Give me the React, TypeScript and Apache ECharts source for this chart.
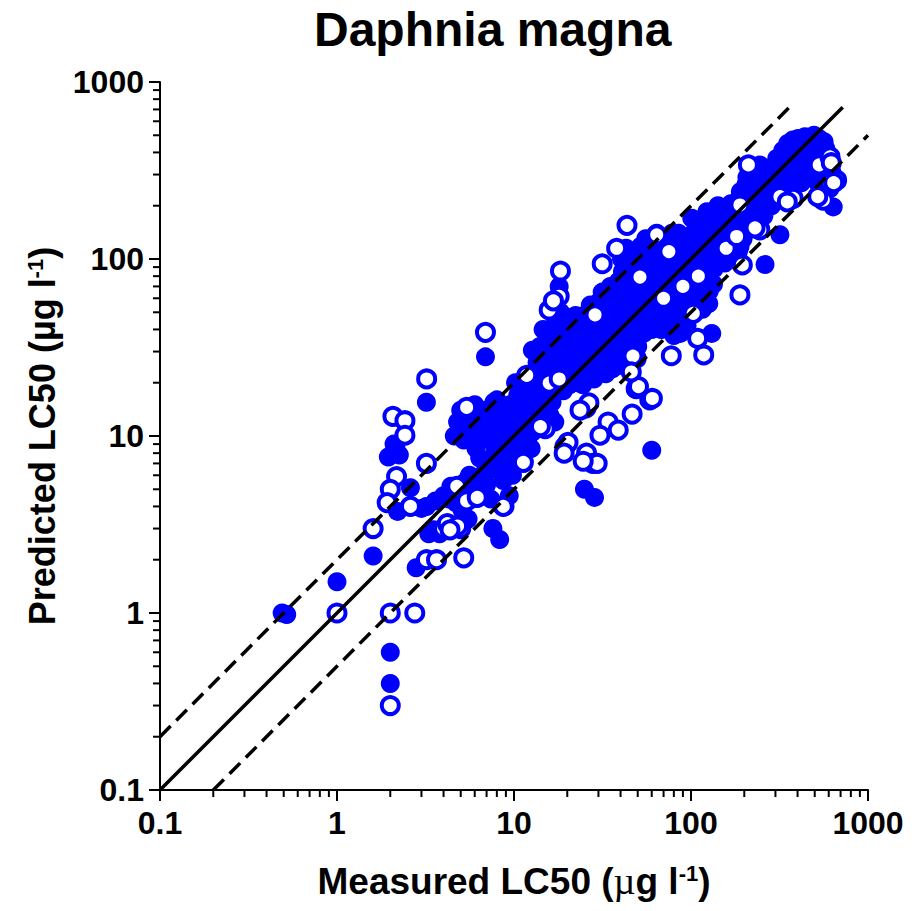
import React, { useEffect, useRef } from 'react';
import * as echarts from 'echarts';

// ---------- data (Measured LC50, Predicted LC50) ----------
const filledLowX: number[][] = [
  [0.49, 1.0], [0.52, 0.98], [1.0, 1.5], [1.6, 2.1], [2.0, 0.6], [2.0, 0.4],
  [1.95, 7.6], [2.07, 8.0], [2.15, 8.7], [2.25, 7.8], [2.1, 9.0], [2.6, 5.1],
  [2.2, 3.75], [2.8, 1.8], [3.2, 15.5], [6.9, 28], [3.3, 2.8], [3.8, 2.8],
  [3.2, 4.0], [3.6, 4.3], [3.5, 2.95], [3.0, 3.9], [4.0, 4.6],
];

const filledBand1: number[][] = [
  [4.6, 10], [4.8, 12], [5.0, 14], [5.2, 9.5], [5.4, 11], [5.5, 13.5], [5.7, 10.5], [5.9, 12.5],
  [4.7, 4.2], [5.0, 4.6], [5.3, 5.5], [5.6, 6.0], [5.8, 4.4], [5.1, 3.8], [5.5, 3.4], [4.3, 4.4],
  [4.4, 5.2], [5.9, 5.2],
  [6.0, 15], [6.2, 13], [6.3, 11], [6.5, 10], [6.7, 12.5], [6.9, 14], [7.1, 11.5], [7.3, 9.5],
  [7.5, 13], [7.7, 15.5], [7.9, 10.5], [6.1, 8.5], [6.4, 7.5], [6.8, 6.2], [7.0, 5.3], [7.2, 7.2],
  [7.6, 6.5], [7.8, 8.2], [6.6, 4.8], [6.2, 5.8], [7.6, 3.0], [7.4, 4.4],
  [8.0, 16], [8.2, 13.5], [8.4, 12], [8.6, 10.5], [8.8, 14], [9.0, 11.5], [9.3, 9.5], [9.5, 15],
  [9.7, 12.5], [9.9, 10], [8.1, 8.8], [8.5, 7.5], [8.9, 8.2], [9.2, 7], [9.6, 8.8], [8.3, 2.6],
  [8.9, 4.0], [9.4, 4.6], [8.7, 5.6], [9.8, 6],
];

const filledBand2: number[][] = [
  [10.2, 20], [10.5, 17], [10.7, 14], [11.0, 12.5], [11.3, 15.5], [11.6, 11], [11.9, 18], [12.2, 22],
  [12.5, 13.5], [12.8, 16], [10.3, 11], [10.8, 9.5], [11.5, 8.5], [12.0, 9.8], [12.7, 10.5], [10.1, 13],
  [11.1, 19], [10.5, 7.8], [12.5, 8.5],
  [13.2, 30], [13.5, 26], [13.8, 20], [14.0, 32], [14.3, 23], [14.6, 40], [14.9, 17.5], [15.2, 28],
  [15.5, 21], [15.8, 35], [16.1, 25], [16.4, 15.5], [16.7, 40], [16.9, 30], [13.4, 15], [14.5, 13.5],
  [15.6, 18.5], [16.5, 19], [13.0, 18], [12.7, 30.5], [16, 13], [17, 12],
  [17.2, 45], [17.5, 36], [17.8, 28], [18.0, 70], [18.2, 32], [18.5, 24], [18.8, 40], [19.1, 20.5],
  [19.4, 34], [19.7, 47], [20.0, 26], [20.4, 38], [20.8, 30], [21.2, 43], [21.6, 22], [17.4, 21],
  [19.0, 18], [20.6, 19.5], [21.8, 35], [18.3, 50],
  [22.3, 48], [22.8, 40], [23.2, 33], [23.7, 27], [24.2, 44], [24.7, 36], [25.2, 23], [25.7, 30],
  [26.2, 50], [26.8, 39], [27.4, 28], [28.0, 45], [28.6, 34], [29.2, 24], [29.7, 41], [23.0, 20],
  [24.5, 19.5], [26.5, 21.5], [28.3, 21], [27.0, 55], [25.0, 5.0], [28.5, 4.5], [22.0, 36],
];

const filledBand3: number[][] = [
  [30.5, 58], [31, 48], [31.6, 38], [32.2, 30], [32.8, 52], [33.5, 42], [34.2, 34], [34.9, 27],
  [35.6, 62], [36.3, 46], [37, 38], [37.8, 30], [38.5, 55], [39.2, 43], [39.8, 35], [30.8, 24],
  [33, 22.5], [36, 24], [38, 26], [31.5, 65], [35, 70], [39, 75],
  [40.5, 100], [41, 85], [41.5, 65], [42, 52], [42.5, 42], [43, 115], [43.5, 75], [44, 58],
  [44.5, 46], [45, 36], [45.5, 92], [46, 68], [46.5, 54], [47, 40], [47.5, 105], [48, 80],
  [48.5, 62], [49, 48], [49.5, 34], [50, 95], [50.5, 72], [51, 57], [51.5, 44], [52, 118],
  [52.5, 86], [53, 66], [53.5, 50], [54, 38], [54.5, 100], [42, 32], [46, 30], [50, 32], [41, 25],
  [60, 8.3],
  [55.5, 130], [56, 110], [56.5, 88], [57, 70], [57.5, 55], [58, 45], [59, 120], [60, 95],
  [61, 78], [62, 62], [63, 50], [64, 140], [65, 105], [66, 85], [67, 68], [68, 55],
  [69, 44], [70, 125], [71, 98], [72, 80], [73, 64], [74, 52], [58, 105], [62, 100],
  [66, 118], [70, 110], [74, 90], [60, 40], [68, 40],
  [76, 130], [77, 108], [78, 90], [79, 74], [80, 60], [80, 37], [82, 118], [83, 96],
  [84, 80], [85, 66], [86, 52], [87, 38], [88, 125], [89, 100], [90, 86], [91, 72],
  [92, 58], [93, 46], [95, 115], [96, 94], [97, 78], [98, 64], [99, 54], [78, 140],
  [85, 140], [92, 130], [99, 120], [82, 45], [95, 42],
];

const filledBand4: number[][] = [
  [101, 170], [103, 140], [105, 118], [107, 98], [109, 82], [111, 70], [113, 58], [115, 160],
  [117, 128], [119, 108], [121, 92], [123, 185], [125, 78], [127, 66], [129, 150], [131, 120],
  [131, 38], [133, 100], [135, 88], [137, 175], [139, 140], [112, 166], [104, 62], [116, 52],
  [126, 56], [134, 72], [108, 150], [124, 110],
  [142, 200], [146, 165], [150, 140], [154, 120], [158, 105], [162, 190], [166, 160], [170, 138],
  [175, 118], [180, 210], [184, 175], [189, 117], [193, 150], [197, 130], [147, 100], [155, 95],
  [163, 115], [172, 100], [185, 110], [195, 190], [152, 180], [168, 205], [178, 145], [190, 240],
  [203, 230], [207, 290], [211, 200], [215, 260], [220, 175], [225, 250], [230, 215], [236, 300],
  [242, 270], [248, 235], [254, 200], [260, 320], [262, 93], [267, 280], [274, 245], [281, 215],
  [288, 330], [295, 285], [300, 250], [210, 155], [232, 185], [258, 175], [285, 200], [205, 265],
  [216, 310], [228, 330], [245, 340],
  [305, 370], [312, 320], [318, 137], [322, 290], [330, 410], [338, 350], [345, 300], [352, 450],
  [360, 390], [368, 340], [376, 470], [385, 420], [394, 370], [403, 480], [412, 440], [421, 395],
  [430, 350], [440, 490], [449, 455], [310, 260], [340, 250], [370, 280], [400, 320], [430, 300],
  [360, 230], [420, 270],
  [458, 420], [466, 480], [475, 380], [485, 440], [495, 500], [505, 460], [516, 410], [528, 480],
  [540, 440], [552, 390], [565, 460], [578, 420], [590, 370], [600, 330], [612, 290], [625, 310],
  [636, 197], [470, 330], [500, 350], [530, 320], [560, 300], [580, 260], [610, 250], [545, 360],
  [520, 270],
];

const openLow: number[][] = [
  [1.0, 1.0], [2.0, 1.0], [2.75, 1.0], [2.0, 0.3], [1.6, 3.0], [2.07, 12.9], [2.42, 12.2],
  [2.42, 10.1], [3.21, 21], [6.9, 38.5], [3.2, 7.0], [2.17, 5.9], [2.0, 5.0], [1.92, 4.2],
  [2.6, 4.0], [3.2, 2.0], [3.65, 2.0], [5.2, 2.05], [4.0, 3.0], [5.0, 3.0], [4.2, 3.2],
  [4.8, 3.1], [4.35, 2.95], [5.4, 4.3], [4.75, 5.2], [8.7, 4.0], [11.3, 7.1], [5.4, 14.5],
  [6.2, 4.5],
];

const openMid: number[][] = [
  [15, 11], [14.1, 11.3], [19.4, 8.7], [20.2, 9.2], [19.2, 8.0], [25.7, 8.0], [27.9, 7.0],
  [29.5, 7.0], [24.6, 7.2], [25.5, 14.4], [26.5, 15.4], [23.6, 14], [34, 12], [38.8, 10.8],
  [30.6, 10.1], [46.5, 13.3], [49, 18.5], [50.5, 19], [58.5, 16], [60.5, 16.3], [45, 28],
  [49, 27.5], [47, 28.3], [46, 23], [77.4, 28.4], [109, 35.6], [118, 28.7], [103, 49.3],
  [15.8, 51.5], [18, 61.5], [18.3, 85.5], [28.7, 48.3], [11.8, 22], [15.8, 19.9], [18, 21],
  [31.5, 94], [38, 115], [43.5, 155], [64, 137], [16.7, 58], [51.5, 79], [70, 60], [90, 70],
  [110, 80], [75, 110],
];

const openHigh: number[][] = [
  [189, 62.7], [211, 340], [158, 115], [195, 92.5], [189, 202], [245, 146], [181, 134],
  [378, 220], [318, 225], [585, 362], [665, 279], [559, 215], [610, 268], [520, 225],
  [530, 340], [610, 378], [350, 210], [620, 350], [640, 270], [230, 150],
];

// reference lines
const identityLine = [[0.1, 0.1], [720, 720]];
const upperLine = [[0.1, 0.2], [375, 750]];
const lowerLine = [[0.2, 0.1], [1000, 500]];

// log minor tick multipliers and decades
const minorMultipliers = [2, 3, 4, 5, 6, 7, 8, 9];
const decades = [0.1, 1, 10, 100];

const FONT = '"Liberation Sans", Arial, sans-serif';
const BLUE = '#0000FF';

function fmt(v: number) {
  return String(Number(v.toPrecision(3)));
}

export default function App() {
  const ref = useRef<HTMLDivElement>(null);

  useEffect(() => {
    const chart = echarts.init(ref.current!, null, { renderer: 'svg' });

    const minorVals: number[] = [];
    decades.forEach((d) => minorMultipliers.forEach((m) => minorVals.push(Number((d * m).toPrecision(3)))));

    const filled = [...filledLowX, ...filledBand1, ...filledBand2, ...filledBand3, ...filledBand4];
    const open = [...openLow, ...openMid, ...openHigh];

    const axisCommon = {
      type: 'log' as const,
      logBase: 10,
      min: 0.1,
      max: 1000,
      splitLine: { show: false },
      axisLine: { show: true, onZero: false, lineStyle: { color: '#000', width: 2 } },
      axisTick: { show: true, inside: false, length: 11, lineStyle: { color: '#000', width: 2 } },
      axisLabel: {
        show: true,
        color: '#000',
        fontFamily: FONT,
        fontWeight: 'bold' as const,
        fontSize: 32,
        formatter: (v: number) => fmt(v),
        showMinLabel: true,
        showMaxLabel: true,
      },
    };

    const nameRich = {
      sup: { fontFamily: FONT, fontWeight: 'bold' as const, fontSize: 22, color: '#000', verticalAlign: 'top' as const },
      mu: { fontFamily: '"Liberation Serif", serif', fontWeight: 'normal' as const, fontSize: 38, color: '#000' },
    };

    chart.setOption({
      animation: false,
      backgroundColor: '#fff',
      textStyle: { fontFamily: FONT },
      title: {
        text: 'Daphnia magna',
        left: 309,
        top: 0,
        textStyle: { fontFamily: FONT, fontWeight: 'bold', fontSize: 48, color: '#000' },
      },
      grid: { left: 160, top: 82, width: 708, height: 708, containLabel: false },
      xAxis: {
        ...axisCommon,
        axisLabel: { ...axisCommon.axisLabel, margin: 17 },
        name: 'Measured LC50 ({mu|µ}g l{sup|-1})',
        nameLocation: 'middle',
        nameGap: 72,
        nameTextStyle: { fontFamily: FONT, fontWeight: 'bold', fontSize: 37, color: '#000', rich: nameRich },
      },
      yAxis: {
        ...axisCommon,
        axisLabel: { ...axisCommon.axisLabel, margin: 16 },
        name: 'Predicted LC50 (µg l{sup|-1})',
        nameLocation: 'middle',
        nameRotate: 90,
        nameGap: 100,
        nameTextStyle: { fontFamily: FONT, fontWeight: 'bold', fontSize: 36, color: '#000', rich: nameRich },
      },
      series: [
        {
          type: 'scatter',
          data: filled,
          symbol: 'circle',
          symbolSize: 19,
          itemStyle: { color: BLUE, opacity: 1 },
          z: 2,
          silent: true,
        },
        {
          type: 'scatter',
          data: open,
          symbol: 'circle',
          symbolSize: 17,
          itemStyle: { color: '#fff', borderColor: BLUE, borderWidth: 4, opacity: 1 },
          z: 3,
          silent: true,
        },
        {
          type: 'line',
          data: identityLine,
          symbol: 'none',
          lineStyle: { color: '#000', width: 3.5 },
          z: 5,
          silent: true,
        },
        {
          type: 'line',
          data: upperLine,
          symbol: 'none',
          lineStyle: { color: '#000', width: 3.5, type: [15, 8] },
          z: 5,
          silent: true,
        },
        {
          type: 'line',
          data: lowerLine,
          symbol: 'none',
          lineStyle: { color: '#000', width: 3.5, type: [15, 8] },
          z: 5,
          silent: true,
        },
        {
          type: 'custom',
          data: minorVals.map((v) => [v, 0.1]),
          clip: false,
          silent: true,
          z: 6,
          renderItem: (params: any, api: any) => {
            const p = api.coord([api.value(0), api.value(1)]);
            return {
              type: 'line',
              shape: { x1: p[0], y1: p[1], x2: p[0], y2: p[1] + 7 },
              style: { stroke: '#000', lineWidth: 2 },
            };
          },
        },
        {
          type: 'custom',
          data: minorVals.map((v) => [0.1, v]),
          clip: false,
          silent: true,
          z: 6,
          renderItem: (params: any, api: any) => {
            const p = api.coord([api.value(0), api.value(1)]);
            return {
              type: 'line',
              shape: { x1: p[0], y1: p[1], x2: p[0] - 7, y2: p[1] },
              style: { stroke: '#000', lineWidth: 2 },
            };
          },
        },
      ],
    });

    return () => chart.dispose();
  }, []);

  return (
    <div
      ref={ref}
      style={{ position: 'absolute', left: 0, top: 0, width: 921, height: 911, background: '#fff' }}
    />
  );
}
